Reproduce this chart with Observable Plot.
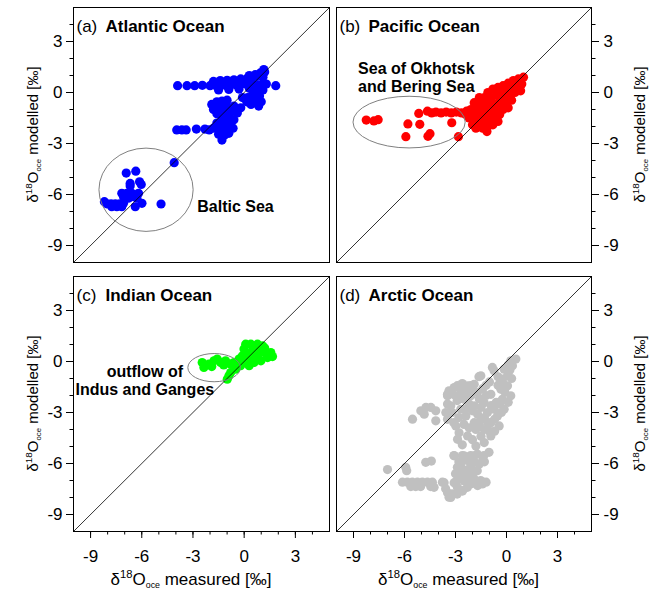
<!DOCTYPE html>
<html><head><meta charset="utf-8">
<script src="https://cdn.jsdelivr.net/npm/d3@7"></script>
<script src="https://cdn.jsdelivr.net/npm/@observablehq/plot@0.6"></script>
<style>
body{margin:0;background:#fff;}
#wrap{position:relative;width:660px;height:589px;background:#fff;}
#wrap > div{position:absolute;}
</style></head><body><div id="wrap"></div>
<script>
const FONT = "'Liberation Sans', Arial, Helvetica, sans-serif";
const axisDomain = [-10, 5];
const majorTicks = [-9, -6, -3, 0, 3];
const minorTicks = [-9, -8, -7, -6, -5, -4, -3, -2, -1, 0, 1, 2, 3, 4];
const oneToOne = [[-10, -10], [5, 5]];

const atlantic = [
 [-3.9,0.4],[-3.35,0.4],[-2.9,0.4],[-2.45,0.42],[-2.0,0.4],[-1.7,0.42],[-1.4,0.4],[-1.1,0.42],[-0.8,0.45],[-0.5,0.45],[-0.2,0.5],[0.1,0.5],[0.4,0.5],[0.7,0.45],[1.0,0.45],[1.3,0.5],[1.85,0.4],
 [-1.8,0.65],[-1.4,0.7],[-1.0,0.72],[-0.6,0.75],[-0.2,0.8],[0.2,0.85],[0.5,0.9],[0.8,0.95],[1.1,0.9],
 [0.3,1.0],[0.65,1.05],[0.95,1.15],[1.2,1.2],[1.15,1.35],
 [-1.5,0.15],[-0.9,0.18],[-0.3,0.2],[0.3,0.25],[0.7,0.2],[1.1,0.15],
 [0.5,-0.1],[0.9,-0.2],[0.6,-0.45],[1.0,-0.55],[0.85,-0.8],[0.4,-0.7],[0.2,-0.3],[-0.1,-0.3],[0.15,-0.55],
 [-1.9,-0.7],[-1.6,-0.55],[-1.3,-0.5],[-1.0,-0.45],[-1.8,-1.0],[-1.4,-0.9],[-1.0,-0.85],[-0.6,-0.8],[-0.2,-0.9],[-1.6,-1.25],[-1.2,-1.2],[-0.8,-1.15],[-0.4,-1.2],
 [-1.3,-1.5],[-0.9,-1.5],[-0.6,-1.6],[-1.6,-1.8],[-1.2,-1.85],[-0.8,-1.9],[-1.8,-2.1],[-1.4,-2.15],[-1.0,-2.2],[-0.65,-2.1],[-1.5,-2.45],[-1.15,-2.5],[-0.9,-2.4],[-1.3,-2.8],
 [-3.95,-2.2],[-3.65,-2.2],[-3.4,-2.2],[-2.8,-2.15],[-2.3,-2.15],[-2.05,-2.2]
];
const baltic = [
 [-4.1,-4.13],[-6.91,-4.74],[-6.35,-4.63],[-6.68,-5.35],[-6.68,-5.5],[-6.13,-5.25],[-6.03,-5.41],
 [-7.17,-5.93],[-6.87,-5.93],[-6.58,-5.93],[-7.07,-6.13],[-6.78,-6.22],[-6.48,-6.13],[-6.19,-5.93],[-6.28,-6.22],
 [-8.19,-6.42],[-8.05,-6.55],[-7.8,-6.55],[-7.55,-6.55],[-7.3,-6.55],[-7.07,-6.52],[-7.76,-6.72],[-7.46,-6.72],[-7.17,-6.72],
 [-6.38,-6.72],[-5.99,-6.52],[-4.87,-6.56]
];
const pacific = [
 [-8.25,-1.62],[-7.8,-1.67],[-7.55,-1.6],[-5.8,-1.85],[-5.92,-2.6],[-5.16,-1.23],[-5.1,-1.87],[-4.62,-2.58],[-4.5,-2.42],[-3.22,-1.78],[-2.83,-2.6],
 [-4.65,-1.1],[-4.4,-1.2],[-4.15,-1.15],[-3.85,-1.2],[-3.55,-1.15],[-3.25,-1.2],[-2.95,-1.15],[-2.65,-1.2],[-2.35,-1.1],[-2.1,-1.15],
 [1.0,0.9],[0.7,0.8],[0.4,0.7],[0.1,0.55],[-0.2,0.4],[-0.5,0.3],[-0.8,0.2],[-1.1,0.0],[-1.3,-0.3],[-1.5,-0.6],[-1.8,-0.85],[-2.1,-1.0],
 [0.9,0.5],[0.6,0.4],[0.3,0.25],[0.0,0.1],[-0.3,0.0],[-0.6,-0.15],[-0.9,-0.35],[-1.2,-0.6],
 [0.83,0.1],[0.5,0.0],[0.2,-0.2],[-0.1,-0.35],[-0.4,-0.5],[-0.7,-0.7],[-1.0,-0.85],[-1.3,-0.95],[-1.6,-1.1],[-1.9,-1.3],[-2.2,-1.5],
 [0.3,-0.45],[-0.1,-0.7],[-0.4,-0.9],[-0.7,-1.1],[-1.0,-1.25],[-1.3,-1.35],[-1.6,-1.5],[-1.9,-1.7],
 [-0.4,-1.3],[-0.7,-1.5],[-1.0,-1.6],[-1.3,-1.7],[-1.6,-1.9],
 [-0.8,-1.9],[-1.1,-2.0],[-1.4,-2.1],[-1.15,-2.3],
 [-2.4,-1.3],[-2.0,-1.9],[-1.8,-2.1],[-0.5,-1.7],[-0.2,-1.0],[0.1,-0.9],[-1.6,-0.3],[-1.9,-0.6]
];
const indian = [
 [-2.46,-0.06],[-2.36,-0.35],[-2.07,-0.16],[-1.77,0.04],[-1.58,0.14],[-1.38,-0.06],[-1.09,0.04],[-0.79,-0.16],[-0.6,-0.06],[-0.3,0.14],
 [-0.11,0.33],[-0.01,0.73],[0.09,1.02],[0.39,1.02],[0.78,1.02],[1.07,0.92],[0.48,0.63],[0.78,0.33],[1.17,0.53],[1.56,0.53],[1.66,0.29],
 [1.37,0.23],[0.98,0.04],[0.58,-0.06],[0.19,0.04],[0.29,-0.25],[-0.21,-0.25],[-0.5,-0.45],[-0.79,-0.65],[-0.99,-1.04],[-0.89,-0.84],
 [0.2,0.4],[0.6,0.3],[0.9,0.6],[0.0,0.0],[-0.4,-0.1],[1.2,0.8],[0.7,0.7],[-1.9,-0.3],[-1.2,-0.2],[1.4,0.45]
];
const arctic = [
 [-7.0,-6.36],[-5.93,-6.22],[-5.87,-6.42],[-6.12,-7.1],[-5.83,-7.1],[-5.54,-7.1],[-5.24,-7.1],[-4.95,-7.1],[-4.65,-7.1],[-4.36,-7.1],
 [-5.63,-7.36],[-5.34,-7.36],[-5.05,-7.36],[-4.46,-7.36],[-4.26,-7.4],[-3.77,-7.1],[-3.58,-7.49],[-4.75,-5.93],[-3.38,-7.98],[-3.19,-7.79],
 [-2.89,-7.4],[-2.6,-7.59],[-3.09,-5.53],[-2.6,-5.53],[-2.89,-6.22],[-2.7,-6.51],[-2.11,-5.53],[-1.72,-5.44],[-1.33,-5.53],[-1.03,-5.34],
 [-2.11,-6.0],[-1.72,-6.42],[-2.3,-6.81],[-1.91,-6.9],[-1.52,-7.0],[-2.11,-7.2],[-1.42,-7.2],[-3.08,-5.55],[-2.49,-5.55],[-1.9,-5.55],
 [-2.69,-6.15],[-2.1,-6.15],[-1.61,-6.05],[-2.69,-6.74],[-2.1,-6.55],[-3.08,-7.13],[-2.49,-7.03],[-1.9,-7.13],[-3.47,-7.72],[-3.67,-7.13],
 [-3.28,-8.0],[-2.59,-7.62],[-4.42,-5.86],
 [-2.4,-5.8],[-2.8,-5.9],[-1.4,-5.8],[-1.9,-5.9],[-2.4,-6.4],[-2.0,-6.8],[-1.7,-7.3],[-2.3,-7.4],[-2.9,-7.0],[-2.9,-7.8],[-3.0,-6.6],[-1.2,-7.1],[-1.3,-5.9],
 [0.25,0.04],[0.35,-0.25],[-0.14,-0.45],[0.06,-0.84],[-0.24,-1.04],[-0.73,-0.55],[-1.51,-0.84],[-0.33,-1.63],[0.06,-1.43],[0.25,-2.02],
 [-0.24,-2.22],[-0.14,-2.81],[-0.53,-3.2],[-0.43,-3.79],[-0.92,-4.38],[-1.31,-4.77],[-1.8,-4.97],[-2.29,-4.38],[-2.79,-4.19],[-2.98,-3.79],
 [-3.47,-3.4],[-3.28,-2.61],[-3.47,-2.02],[-3.08,-1.53],[-2.69,-1.63],[-2.29,-1.43],[-1.9,-1.34],[-1.71,-1.83],[-2.1,-2.02],[-2.49,-2.22],
 [-1.9,-2.61],[-1.31,-2.42],[-0.92,-1.93],[-1.12,-3.0],[-1.51,-3.4],[-1.9,-3.6],[-2.39,-3.2],[-2.69,-2.81],[-0.92,-3.6],[-0.73,-2.81],
 [-2.88,-4.58],[-1.8,-4.0],[-1.31,-4.0],[0.55,0.14],[-0.83,-0.35],[-1.62,-0.89],[-3.38,-1.72],[-2.89,-1.42],[-2.11,-1.42],
 [-5.53,-3.39],[-5.04,-2.9],[-4.74,-2.7],[-4.45,-2.7],[-4.16,-2.9],[-4.84,-3.1],[-4.16,-3.49],[-3.57,-3.0],[-3.47,-1.92],[-3.47,-2.5],
 [0.2,-0.5],[0.3,-1.0],[-0.1,-1.8],[0.1,-2.4],[-0.4,-2.5],[-1.6,-2.2],[-2.9,-2.3],[-1.3,-3.3],[-0.7,-4.1],[-2.5,-3.7],[-3.2,-3.0],[-2.0,-2.9],[-1.0,-1.2],[-0.5,-1.4],
 [-3.0,-2.0],[-2.6,-1.9],[-2.3,-1.8],[-2.0,-1.7],[-1.4,-1.6],[-1.2,-2.0],[-1.5,-2.7],[-1.7,-3.1],[-2.2,-2.5],[-2.4,-2.8],[-2.8,-3.3],[-3.1,-3.6],
 [-2.2,-3.9],[-1.6,-3.7],[-1.1,-3.6],[-1.0,-4.1],[-1.5,-4.4],[-2.0,-4.6],[-0.3,-3.0],[-0.6,-2.4],[-0.9,-2.6],[-0.2,-1.3],[0.1,-0.2],[-0.5,-0.9],
 [-1.2,-1.4],[-2.6,-1.3],[-3.2,-1.9],[-0.7,-3.4],[-2.6,-4.9]
];

const balticEllipse = {cx: -5.72, cy: -5.75, rx: 2.76, ry: 2.45};
const okhotskEllipse = {cx: -5.70, cy: -1.77, rx: 3.3, ry: 1.52};
const indusEllipse = {cx: -1.73, cy: -0.39, rx: 1.54, ry: 0.83};

const panels = [
 {tag: "(a)", name: "Atlantic Ocean", pts: atlantic.concat(baltic), color: "#0000ff", ellipse: balticEllipse,
  note: {text: "Baltic Sea", x: -2.75, y: -7.05, anchor: "start"},
  left: 0, top: 0, height: 270, m: [7, 1, 8, 73], ySide: "left", xAxis: false},
 {tag: "(b)", name: "Pacific Ocean", pts: pacific, color: "#ff0000", ellipse: okhotskEllipse,
  note: {text: "Sea of Okhotsk\nand Bering Sea", x: -8.73, y: 0.05, anchor: "start"},
  left: 330, top: 0, height: 270, m: [7, 69, 8, 6], ySide: "right", xAxis: false},
 {tag: "(c)", name: "Indian Ocean", pts: indian, color: "#00ff00", ellipse: indusEllipse,
  note: {text: "outflow of\nIndus and Ganges", x: -5.82, y: -1.96, anchor: "middle"},
  left: 0, top: 270, height: 319, m: [6, 1, 58, 73], ySide: "left", xAxis: true, xShift: -10},
 {tag: "(d)", name: "Arctic Ocean", pts: arctic, color: "#c0c0c0", ellipse: null, note: null,
  left: 330, top: 270, height: 319, m: [6, 69, 58, 6], ySide: "right", xAxis: true, xShift: -5}
];

function ellipseMark(e) {
  return (index, scales) => {
    const cx = scales.x(e.cx), cy = scales.y(e.cy);
    const el = d3.create("svg:ellipse")
      .attr("cx", cx).attr("cy", cy)
      .attr("rx", Math.abs(scales.x(e.cx + e.rx) - cx))
      .attr("ry", Math.abs(scales.y(e.cy + e.ry) - cy))
      .attr("fill", "none").attr("stroke", "#808080").attr("stroke-width", 1);
    return el.node();
  };
}

function deltaTitle(word, fs, place) {
  return (index, scales, values, dims) => {
    const p = place(dims);
    const t = d3.create("svg:text")
      .attr("transform", `translate(${p.x},${p.y}) rotate(${p.rot})`)
      .attr("y", p.rot ? fs * 0.36 : 0)
      .attr("text-anchor", "middle")
      .attr("font-family", FONT).attr("font-size", fs).attr("fill", "black");
    t.append("tspan").text("δ");
    t.append("tspan").attr("font-size", fs * 0.66).attr("dy", -fs * 0.42).text("18");
    t.append("tspan").attr("dy", fs * 0.42).text("O");
    t.append("tspan").attr("font-size", fs * 0.52).attr("dy", fs * 0.2).text("oce");
    t.append("tspan").attr("dy", -fs * 0.2).text(" " + word + " [‰]");
    return t.node();
  };
}

const fmt = d => String(d);
const wrap = document.getElementById("wrap");

for (const P of panels) {
  const [mt, mr, mb, ml] = P.m;
  const marks = [
    Plot.dot(P.pts, {x: d => d[0], y: d => d[1], r: 4.6, fill: P.color, stroke: "none"}),
    Plot.line(oneToOne, {x: d => d[0], y: d => d[1], stroke: "black", strokeWidth: 0.8}),
  ];
  if (P.ellipse) marks.push(ellipseMark(P.ellipse));
  marks.push(Plot.frame({stroke: "black", strokeWidth: 1}));
  marks.push(Plot.axisY({anchor: P.ySide, ticks: minorTicks, tickSize: 3.5, fill: "none", label: null}));
  marks.push(Plot.axisY({anchor: P.ySide, ticks: majorTicks, tickSize: 7, tickPadding: P.ySide === "left" ? 4 : 5,
    fontSize: 17, tickFormat: fmt, label: null}));
  if (P.xAxis) {
    marks.push(Plot.axisX({anchor: "bottom", ticks: minorTicks, tickSize: 3.5, fill: "none", label: null}));
    marks.push(Plot.axisX({anchor: "bottom", ticks: majorTicks, tickSize: 7, tickPadding: 11,
      fontSize: 17, tickFormat: fmt, label: null}));
    marks.push(deltaTitle("measured", 17, d => ({
      x: (d.marginLeft + d.width - d.marginRight) / 2 + P.xShift,
      y: d.height - d.marginBottom + 54, rot: 0})));
  }
  marks.push(deltaTitle("modelled", 15, d => (P.ySide === "left"
    ? {x: d.marginLeft - 40, y: (d.marginTop + d.height - d.marginBottom) / 2, rot: -90}
    : {x: d.width - d.marginRight + 49, y: (d.marginTop + d.height - d.marginBottom) / 2, rot: -90})));
  marks.push(Plot.text([P.tag], {frameAnchor: "top-left", text: d => d, dx: 3, dy: 24, lineAnchor: "bottom",
    textAnchor: "start", fontSize: 17, fill: "black"}));
  marks.push(Plot.text([P.name], {frameAnchor: "top-left", text: d => d, dx: 32, dy: 24, lineAnchor: "bottom",
    textAnchor: "start", fontSize: 17, fontWeight: "bold", fill: "black"}));
  if (P.note) {
    marks.push(Plot.text([P.note.text], {x: [P.note.x], y: [P.note.y], text: d => d, lineAnchor: "bottom",
      textAnchor: P.note.anchor, fontSize: 16, fontWeight: "bold", lineHeight: 1.12, fill: "black"}));
  }
  const svg = Plot.plot({
    width: 330, height: P.height,
    marginTop: mt, marginRight: mr, marginBottom: mb, marginLeft: ml,
    x: {domain: axisDomain, axis: null},
    y: {domain: axisDomain, axis: null},
    style: {fontFamily: FONT, fontSize: "17px", background: "transparent", overflow: "visible", color: "black"},
    marks
  });
  const holder = document.createElement("div");
  holder.style.left = P.left + "px";
  holder.style.top = P.top + "px";
  holder.appendChild(svg);
  wrap.appendChild(holder);
}
</script>
</body></html>
